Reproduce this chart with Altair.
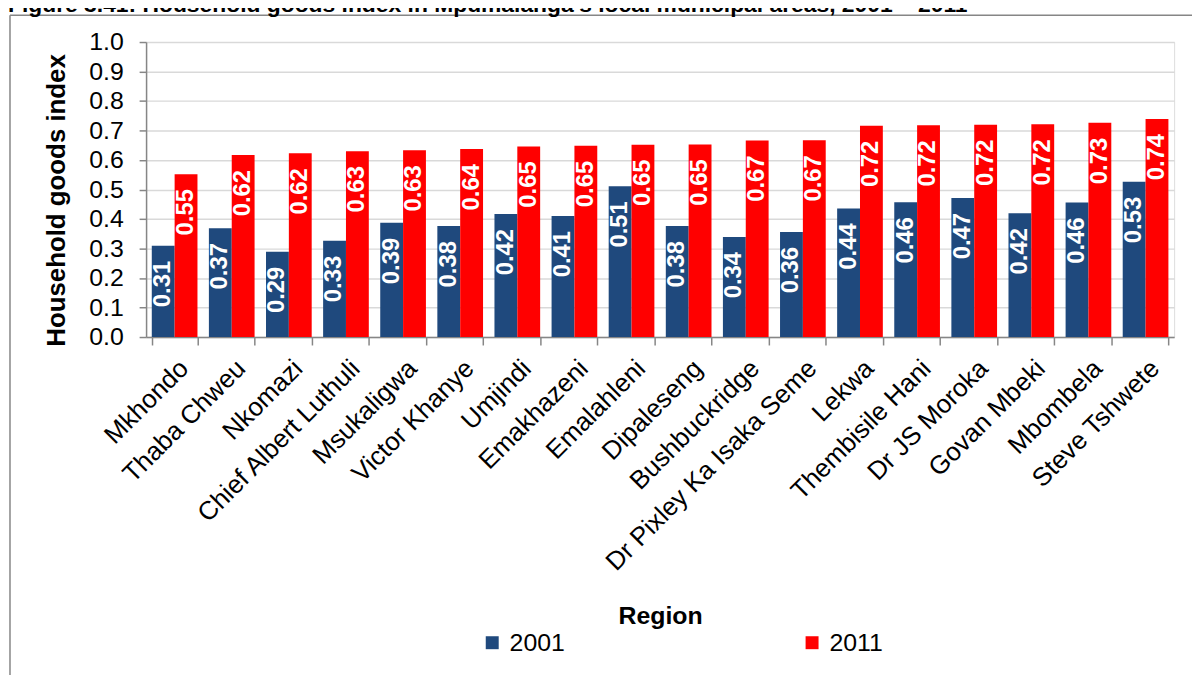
import altair as alt
import pandas as pd

regions = ["Mkhondo", "Thaba Chweu", "Nkomazi", "Chief Albert Luthuli", "Msukaligwa",
           "Victor Khanye", "Umjindi", "Emakhazeni", "Emalahleni", "Dipaleseng",
           "Bushbuckridge", "Dr Pixley Ka Isaka Seme", "Lekwa", "Thembisile Hani",
           "Dr JS Moroka", "Govan Mbeki", "Mbombela", "Steve Tshwete"]
v2001 = [0.309, 0.369, 0.289, 0.326, 0.387, 0.376, 0.417, 0.410, 0.511, 0.376,
         0.339, 0.356, 0.436, 0.457, 0.471, 0.420, 0.456, 0.526]
v2011 = [0.552, 0.617, 0.623, 0.630, 0.633, 0.637, 0.646, 0.648, 0.652, 0.653,
         0.666, 0.667, 0.716, 0.718, 0.720, 0.721, 0.726, 0.739]
years = ["2001", "2011"]
colors = ["#1F497D", "#FF0000"]
y_ticks = [0.0, 0.1, 0.2, 0.3, 0.4, 0.5, 0.6, 0.7, 0.8, 0.9, 1.0]
fig_title = "Figure 3.41: Household goods index in Mpumalanga\u2019s local municipal areas, 2001 \u2013 2011"

rows = []
for r, a, b in zip(regions, v2001, v2011):
    rows.append({"Region": r, "year": years[0], "value": a})
    rows.append({"Region": r, "year": years[1], "value": b})
df = pd.DataFrame(rows)

FONT = "Liberation Sans"
GRAY = "#868686"
W, H = 1035, 297

x_enc = alt.X(
    "Region:N", sort=regions,
    scale=alt.Scale(paddingInner=0.2, paddingOuter=0.1),
    axis=alt.Axis(
        title="Region", labelAngle=315, labelAlign="right", labelBaseline="top",
        labelFontSize=26, labelFont=FONT, labelColor="black", labelLimit=500,
        labelPadding=10, labelOverlap=False,
        tickBand="extent", tickSize=8, tickColor=GRAY, tickWidth=1.5,
        domainColor=GRAY, domainWidth=1.5,
        titleFontSize=25, titleFont=FONT, titleFontWeight="bold", titleColor="black",
        titleY=288, titleBaseline="alphabetic",
    ),
)
y_enc = alt.Y(
    "value:Q", scale=alt.Scale(domain=[0, 1], nice=False),
    axis=alt.Axis(
        title="Household goods index", values=y_ticks, tickCount=11, format=".1f",
        labelFontSize=25, labelFont=FONT, labelColor="black", labelPadding=16,
        labelOverlap=False,
        tickSize=7, tickColor=GRAY, tickWidth=1.5, domainColor=GRAY, domainWidth=1.5,
        gridColor="#d9d9d9", gridWidth=1.5,
        titleFontSize=26, titleFont=FONT, titleFontWeight="bold", titleColor="black",
        titleAngle=270, titleX=-90, titleY=159, titleBaseline="middle",
    ),
)
xoff = alt.XOffset("year:N", sort=years)

bars = alt.Chart(df).mark_bar().encode(
    x=x_enc, xOffset=xoff, y=y_enc,
    color=alt.Color(
        "year:N", scale=alt.Scale(domain=years, range=colors),
        legend=alt.Legend(
            title=None, orient="none", legendX=336, legendY=592, direction="horizontal",
            symbolType="square", symbolSize=170, symbolStrokeWidth=0,
            labelFontSize=25, labelFont=FONT, labelColor="black", labelOffset=5,
            columnPadding=236,
        ),
    ),
)

labels = alt.Chart(df).mark_text(
    angle=270, align="right", baseline="middle", dx=-15, color="white",
    fontSize=24, fontWeight="bold", font=FONT,
).encode(
    x=x_enc, xOffset=xoff, y=y_enc,
    text=alt.Text("value:Q", format=".2f"),
)

one = pd.DataFrame({"k": [0]})
frame_left = alt.Chart(one).mark_rule(color=GRAY, strokeWidth=1.5).encode(
    x=alt.value(-137), y=alt.value(-27), y2=alt.value(700))
frame_top = alt.Chart(one).mark_rule(color=GRAY, strokeWidth=1.5).encode(
    x=alt.value(-137), x2=alt.value(1100), y=alt.value(-27))
title_txt = alt.Chart(one).mark_text(
    align="left", baseline="alphabetic", fontSize=23, fontWeight="bold", font=FONT, color="black",
).encode(x=alt.value(-139), y=alt.value(-30), text=alt.value(fig_title))

chart = alt.layer(bars, labels, frame_left, frame_top, title_txt).properties(
    width=W, height=H,
    autosize=alt.AutoSizeParams(type="none"),
    padding={"left": 139, "top": 32, "right": 18, "bottom": 338},
).configure_view(stroke=None).configure(background="white")

chart.save("out.html", embed_options={"renderer": "svg", "actions": False})
